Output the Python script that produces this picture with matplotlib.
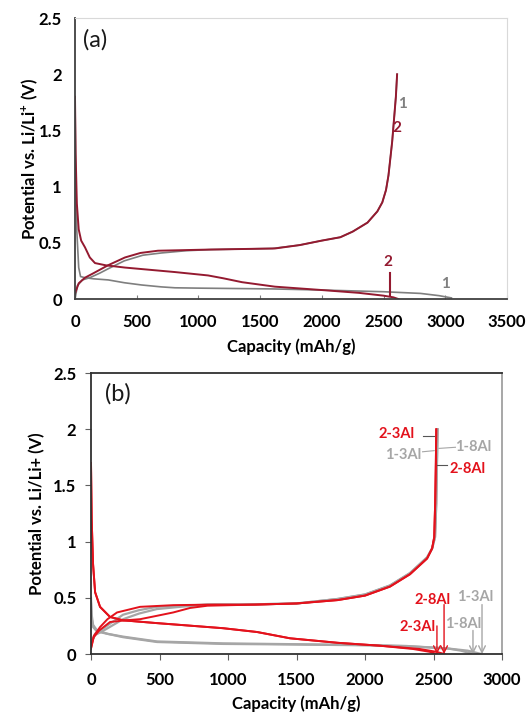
import numpy as np
import matplotlib.pyplot as plt

plt.rcParams['font.family'] = ['Lato', 'DejaVu Sans']
plt.rcParams['mathtext.default'] = 'regular'

# ---- panel (a) data: capacity (mAh/g), potential (V)
a1_dis_x = [0, 5, 15, 30, 45, 80, 150, 270, 400, 540, 700, 810, 1000, 1600, 2000, 2500, 2800, 2950, 3050]
a1_dis_y = [1.8, 1.2, 0.6, 0.28, 0.2, 0.19, 0.18, 0.17, 0.145, 0.125, 0.108, 0.1, 0.097, 0.09, 0.08, 0.065, 0.05, 0.03, 0.01]
a1_chg_x = [0, 20, 60, 120, 200, 270, 400, 550, 700, 900, 1100, 1600, 1820, 2000, 2150, 2250, 2370, 2450, 2490, 2520, 2540, 2555, 2570, 2585, 2600, 2610]
a1_chg_y = [0.0, 0.12, 0.17, 0.19, 0.23, 0.27, 0.34, 0.39, 0.41, 0.43, 0.44, 0.45, 0.48, 0.52, 0.55, 0.6, 0.68, 0.78, 0.86, 0.97, 1.1, 1.25, 1.4, 1.6, 1.8, 2.0]
a2_dis_x = [0, 5, 15, 30, 50, 81, 120, 162, 250, 405, 810, 1078, 1200, 1353, 1620, 2000, 2300, 2500, 2580, 2620]
a2_dis_y = [1.8, 1.3, 0.85, 0.62, 0.52, 0.46, 0.37, 0.32, 0.3, 0.28, 0.24, 0.21, 0.185, 0.15, 0.11, 0.08, 0.055, 0.03, 0.015, 0.0]
a2_chg_x = [0, 30, 81, 150, 267, 405, 530, 672, 1080, 1620, 1820, 2000, 2150, 2250, 2370, 2450, 2490, 2520, 2540, 2555, 2570, 2585, 2600, 2610]
a2_chg_y = [0.05, 0.14, 0.19, 0.23, 0.3, 0.37, 0.41, 0.43, 0.44, 0.45, 0.48, 0.52, 0.55, 0.6, 0.68, 0.78, 0.86, 0.97, 1.1, 1.25, 1.4, 1.6, 1.8, 2.0]

# ---- panel (b) data
b_1_3_dis_x = [0, 5, 15, 44, 120, 234, 482, 963, 1453, 2000, 2300, 2600, 2750, 2850]
b_1_3_dis_y = [0.5, 0.35, 0.26, 0.21, 0.18, 0.15, 0.107, 0.09, 0.085, 0.078, 0.07, 0.05, 0.03, 0.0]
b_1_8_dis_x = [0, 5, 15, 44, 120, 234, 482, 963, 1453, 2000, 2300, 2600, 2700, 2790]
b_1_8_dis_y = [0.45, 0.32, 0.24, 0.2, 0.18, 0.155, 0.112, 0.095, 0.088, 0.08, 0.072, 0.05, 0.03, 0.0]
b_1_3_chg_x = [0, 30, 80, 150, 234, 350, 480, 650, 850, 1100, 1500, 1800, 2000, 2182, 2328, 2453, 2490, 2511, 2520, 2525, 2530]
b_1_3_chg_y = [0.1, 0.18, 0.22, 0.28, 0.35, 0.39, 0.42, 0.43, 0.44, 0.44, 0.45, 0.49, 0.53, 0.61, 0.72, 0.86, 0.94, 1.04, 1.34, 1.7, 2.0]
b_1_8_chg_x = [0, 30, 80, 150, 234, 350, 480, 650, 850, 1100, 1500, 1800, 2000, 2182, 2328, 2453, 2490, 2511, 2520, 2525, 2530]
b_1_8_chg_y = [0.1, 0.17, 0.2, 0.25, 0.31, 0.36, 0.4, 0.42, 0.44, 0.44, 0.45, 0.49, 0.53, 0.61, 0.72, 0.86, 0.94, 1.04, 1.34, 1.7, 2.0]
b_2_3_dis_x = [0, 5, 15, 30, 66, 139, 234, 482, 963, 1212, 1453, 1800, 2100, 2350, 2470, 2525]
b_2_3_dis_y = [1.7, 1.2, 0.8, 0.55, 0.42, 0.33, 0.3, 0.275, 0.23, 0.196, 0.14, 0.1, 0.075, 0.045, 0.02, 0.0]
b_2_8_dis_x = [0, 5, 15, 30, 66, 139, 234, 482, 963, 1212, 1453, 1800, 2100, 2400, 2520, 2580]
b_2_8_dis_y = [1.7, 1.2, 0.8, 0.55, 0.42, 0.33, 0.3, 0.275, 0.23, 0.196, 0.14, 0.1, 0.075, 0.045, 0.02, 0.0]
b_2_3_chg_x = [0, 20, 66, 120, 190, 358, 600, 900, 1200, 1500, 1800, 2000, 2182, 2328, 2453, 2490, 2505, 2512, 2517, 2520]
b_2_3_chg_y = [0.05, 0.16, 0.24, 0.31, 0.37, 0.42, 0.435, 0.44, 0.44, 0.45, 0.48, 0.52, 0.6, 0.71, 0.85, 0.94, 1.04, 1.34, 1.7, 2.0]
b_2_8_chg_x = [0, 20, 60, 139, 250, 358, 480, 600, 723, 850, 1200, 1500, 1800, 2000, 2182, 2328, 2453, 2490, 2505, 2512, 2517, 2520]
b_2_8_chg_y = [0.05, 0.15, 0.21, 0.285, 0.3, 0.31, 0.34, 0.37, 0.41, 0.43, 0.44, 0.45, 0.48, 0.52, 0.6, 0.71, 0.85, 0.94, 1.04, 1.34, 1.7, 2.0]

gray_a = '#7f7f7f'
red_a = '#941a30'
gray_b = '#a6a6a6'
red_b = '#e3121c'

fig = plt.figure(figsize=(5.30, 7.13), dpi=100)
ax1 = fig.add_axes([0.1415, 0.5806, 0.815, 0.394])
ax2 = fig.add_axes([0.1717, 0.0827, 0.7755, 0.394])

# panel (a)
ax1.plot(a1_dis_x, a1_dis_y, color=gray_a, lw=1.2)
ax1.plot(a1_chg_x, a1_chg_y, color=gray_a, lw=1.2)
ax1.plot(a2_dis_x, a2_dis_y, color=red_a, lw=1.4)
ax1.plot(a2_chg_x, a2_chg_y, color=red_a, lw=1.4)
ax1.set_xlim(0, 3500)
ax1.set_ylim(0, 2.5)
ax1.set_xticks(np.arange(0, 3501, 500))
ax1.set_yticks([0, 0.5, 1, 1.5, 2, 2.5])
ax1.set_yticklabels(['0', '0.5', '1', '1.5', '2', '2.5'])
ax1.set_xlabel('Capacity (mAh/g)', fontsize=12, fontweight='bold')
ax1.set_ylabel(r'Potential vs. Li/Li$^{+}$ (V)', fontsize=12, fontweight='bold')
ax1.xaxis.set_label_coords(0.5, -0.142)
ax1.yaxis.set_label_coords(-0.081, 0.5)
ax1.text(162, 2.31, '(a)', fontsize=17, ha='center', va='center', color='#1a1a1a')
ax1.text(2650, 1.74, '1', color=gray_a, fontsize=11, fontweight='bold', ha='center', va='center')
ax1.text(2610, 1.52, '2', color=red_a, fontsize=11, fontweight='bold', ha='center', va='center')
ax1.text(2536, 0.33, '2', color=red_a, fontsize=11, fontweight='bold', ha='center', va='center')
ax1.plot([2555, 2555], [0.23, 0.03], color=red_a, lw=1.5)
ax1.text(3006, 0.13, '1', color=gray_a, fontsize=11, fontweight='bold', ha='center', va='center')

for s in ['top', 'right']:
    ax1.spines[s].set_color('#d9d9d9')
for s in ['left', 'bottom']:
    ax1.spines[s].set_color('#404040')
    ax1.spines[s].set_linewidth(1.3)
ax1.tick_params(axis='x', direction='in', length=3, color='#808080', pad=10.5)
ax1.tick_params(axis='y', direction='out', length=0, pad=9.4)
for lab in ax1.get_xticklabels() + ax1.get_yticklabels():
    lab.set_fontsize(12)
    lab.set_fontweight('bold')

# panel (b)
ax2.plot(b_1_3_dis_x, b_1_3_dis_y, color=gray_b, lw=1.6)
ax2.plot(b_1_8_dis_x, b_1_8_dis_y, color=gray_b, lw=1.6)
ax2.plot(b_1_3_chg_x, b_1_3_chg_y, color=gray_b, lw=1.6)
ax2.plot(b_1_8_chg_x, b_1_8_chg_y, color=gray_b, lw=1.6)
ax2.plot(b_2_3_dis_x, b_2_3_dis_y, color=red_b, lw=1.4)
ax2.plot(b_2_8_dis_x, b_2_8_dis_y, color=red_b, lw=1.4)
ax2.plot(b_2_3_chg_x, b_2_3_chg_y, color=red_b, lw=1.4)
ax2.plot(b_2_8_chg_x, b_2_8_chg_y, color=red_b, lw=1.4)
ax2.set_xlim(0, 3000)
ax2.set_ylim(0, 2.5)
ax2.set_xticks(np.arange(0, 3001, 500))
ax2.set_yticks([0, 0.5, 1, 1.5, 2, 2.5])
ax2.set_yticklabels(['0', '0.5', '1', '1.5', '2', '2.5'])
ax2.set_xlabel('Capacity (mAh/g)', fontsize=12, fontweight='bold')
ax2.set_ylabel('Potential vs. Li/Li+ (V)', fontsize=12, fontweight='bold')
ax2.xaxis.set_label_coords(0.5, -0.149)
ax2.yaxis.set_label_coords(-0.112, 0.5)
ax2.text(197, 2.32, '(b)', fontsize=17, ha='center', va='center', color='#1a1a1a')

lbl = dict(fontsize=10.5, fontweight='bold', va='center')
# top labels with leader lines
ax2.text(2233, 1.96, '2-3Al', color=red_b, ha='center', **lbl)
ax2.plot([2420, 2500], [1.94, 1.94], color='#555555', lw=0.8)
ax2.text(2790, 1.84, '1-8Al', color=gray_b, ha='center', **lbl)
ax2.plot([2540, 2660], [1.83, 1.84], color=gray_b, lw=0.8)
ax2.text(2277, 1.77, '1-3Al', color=gray_b, ha='center', **lbl)
ax2.plot([2420, 2505], [1.8, 1.81], color=gray_b, lw=0.8)
ax2.text(2745, 1.65, '2-8Al', color=red_b, ha='center', **lbl)
ax2.plot([2525, 2600], [1.68, 1.68], color='#555555', lw=0.8)

# bottom labels with arrows
arrow_specs = [
    ('2-8Al', red_b, 2496, 0.48, 2577, 0.44),
    ('1-3Al', gray_b, 2803, 0.51, 2854, 0.44),
    ('2-3Al', red_b, 2387, 0.24, 2525, 0.25),
    ('1-8Al', gray_b, 2716, 0.27, 2788, 0.21),
]
for name, col, tx, ty, axx, ay in arrow_specs:
    ax2.text(tx, ty, name, color=col, ha='center', **lbl)
    ax2.annotate('', xy=(axx, 0.0), xytext=(axx, ay),
                 arrowprops=dict(arrowstyle='->', color=col, lw=1.0,
                                 shrinkA=0, shrinkB=0, mutation_scale=12))

for s in ['left', 'bottom', 'top']:
    ax2.spines[s].set_color('#303030')
    ax2.spines[s].set_linewidth(1.3)
ax2.spines['right'].set_color('#a0a0a0')
ax2.spines['right'].set_linewidth(1.3)
ax2.tick_params(axis='both', direction='out', length=4, color='#606060')
ax2.tick_params(axis='x', pad=9)
ax2.tick_params(axis='y', pad=6.5)
for lab in ax2.get_xticklabels() + ax2.get_yticklabels():
    lab.set_fontsize(12)
    lab.set_fontweight('bold')

fig.savefig('out.png', dpi=100)
